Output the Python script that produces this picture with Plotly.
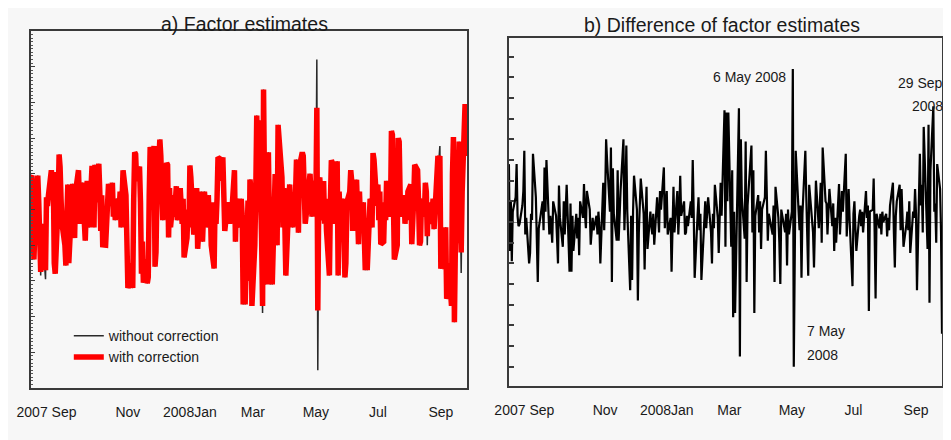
import plotly.graph_objects as go
import pandas as pd

# business days covered by the chart
dates = pd.bdate_range("2007-07-16", "2008-10-08")

# a) factor estimate with correction (red)
factor_with = [
    0.9, 0.95, 0.2, -1.4, -0.6, 0.95, 0.2, -1.2, -1.75, -0.4,
    -1.5, -1.7, 0.34, 0.1, 0.4, 1.1, 0.6, 1.05, -1.5, -1.8,
    0.2, 1.54, 1.2, 0.3, -0.4, -1.0, -1.57, -0.2, 0.7, -1.5,
    0.0, 0.72, -0.3, -0.8, 0.5, 1.1, 0.2, -0.4, 0.6, 0.75,
    -0.87, -0.2, 0.8, 0.3, -0.5, 1.22, 0.9, -0.5, 1.25, 0.2,
    1.28, 0.5, -0.6, 0.4, -0.99, -1.0, -0.3, 0.3, 0.72, 0.1,
    0.75, -0.2, 0.2, -0.3, 0.3, 0.0, 0.5, -0.5, 0.2, 1.1,
    0.4, -1.0, -2.2, -2.1, -1.5, -2.2, 0.3, 1.6, 1.55, 0.8,
    1.2, 0.2, -1.8, -0.9, -2.05, -1.4, -2.07, -1.9, 0.4, 1.75,
    1.3, 1.78, -1.6, -1.2, 0.5, 1.96, 1.5, 0.43, -0.3, 0.6,
    1.3, 1.25, -0.78, 0.6, -0.5, 0.4, -0.2, 0.2, 0.65, -0.3,
    0.6, 0.1, -0.4, 0.3, -1.34, -0.8, 0.0, -0.5, 1.23, 0.9,
    -0.7, 0.4, -0.1, 0.6, -1.1, 0.3, 0.5, -0.9, 0.2, 0.5,
    -0.5, 0.4, -0.3, 0.2, -1.0, -1.65, 0.2, -0.4, 0.3, 1.46,
    1.4, 0.8, 1.46, 0.0, -0.6, 0.2, -0.15, -0.4, 0.1, -0.2,
    1.1, -0.9, 0.3, -0.15, -0.5, 0.3, -0.2, -2.66, -1.5, -2.66,
    0.25, -2.0, 0.84, 0.6, -2.7, -1.0, 0.5, 2.63, 1.2, 2.5,
    -0.8, -2.7, 3.36, 1.5, -2.1, 1.6, -0.2, -2.1, -0.3, -2.1,
    0.99, 0.2, -1.0, 2.37, 1.8, 0.9, -0.5, 0.6, -0.4, -1.85,
    0.2, 0.7, 0.1, -0.3, -0.5, 0.4, 1.4, 0.5, -0.65, 1.2,
    1.6, 1.5, 0.2, -0.4, -0.15, 0.5, 1.0, 0.4, -0.2, 0.8,
    0.2, 2.85, -2.83, 0.3, 0.9, -0.3, 0.8, -0.4, 0.3, -0.6,
    -1.85, 0.2, 1.38, 1.3, -0.4, 0.4, 1.35, -1.85, 0.5, -0.2,
    0.3, -0.8, -1.9, -1.5, 0.2, 0.5, 1.1, 0.8, -0.6, 0.4,
    0.83, 0.2, -0.97, 0.5, -0.3, 0.2, -0.6, -1.7, -1.2, -1.7,
    0.3, 0.2, -0.5, 1.58, 1.4, 0.1, 0.7, -0.3, 0.5, -0.97,
    -0.9, 0.2, -0.3, 0.8, 0.5, -0.2, 2.2, 2.1, 0.3, -1.4,
    -1.0, 2.0, 1.9, 0.4, -0.2, 0.4, -0.4, 0.2, -0.3, 0.5,
    0.7, -0.97, -0.5, 0.3, 1.25, 1.1, 0.2, -1.0, -0.9, 0.3,
    -0.2, 0.75, 0.5, -0.75, 0.2, -0.4, 0.1, 0.3, -0.55, 0.2,
    1.5, 1.4, 1.5, -1.66, -1.2, -1.66, -0.5, -2.5, -2.4, -1.5,
    -2.7, 1.0, 2.03, -3.16, -1.0, 0.8, 1.9, 0.4, -1.2, 0.5,
    2.95, 1.5, 2.95,
]

# a) days where the uncorrected estimate (black) differs from the corrected one
without_overrides = {8: -1.85, 11: -1.95, 171: -2.9, 211: 4.2, 212: -4.5,
                     293: -1.0, 302: 1.78, 318: -1.78}

# b) difference of factor estimates
factor_diff = [
    2.8, -1.4, 1.0, -1.9, 0.5, 1.2, 2.8, 0.3, -0.2, -0.1,
    0.8, 1.5, 3.45, -0.6, 0.2, -2.0, -1.5, 0.4, 0.1, 3.3,
    1.2, -0.5, -2.9, -0.3, 0.1, 1.0, -0.4, 2.64, 0.5, 3.0,
    -0.6, 0.3, -0.2, -1.0, 1.0, 0.3, -0.8, -2.0, 1.76, 0.2,
    -1.2, 1.0, -0.6, 0.4, 1.8, -2.4, 0.9, -2.4, 0.3, -1.4,
    0.4, -0.8, 0.2, -1.6, 1.0, 0.2, 1.84, 0.4, -0.3, 1.5,
    0.6, -1.1, -0.3, 0.2, -0.4, 0.3, -0.6, 0.5, -0.2, -2.0,
    1.9, -0.4, 1.2, 4.0, 3.0, 0.5, 3.6, -2.9, 2.6, 0.4,
    -0.9, 2.5, -0.9, 0.6, 1.5, 4.0, -0.4, 1.2, 3.7, 0.5,
    -3.3, 0.3, -2.8, 0.5, 2.24, 0.6, -3.8, -0.5, 0.8, 2.1,
    0.4, -2.3, 0.2, 1.7, -1.3, 0.5, -0.2, -0.6, 0.4, -1.1,
    1.2, 0.2, -0.5, 1.5, 0.6, 2.64, -0.3, 0.8, 1.5, -0.6,
    0.2, -2.4, 0.3, 1.7, -0.5, 1.5, -0.6, 0.4, 2.24, 0.3,
    1.0, -0.6, -0.5, 0.3, -0.2, 1.0, 0.2, 3.0, 0.5, -2.7,
    0.3, 1.2, -0.4, 0.4, -2.8, 0.2, 1.0, -0.3, 0.3, 1.2,
    -0.5, -2.0, 0.4, -0.3, 1.8, 0.2, -1.5, 0.5, 1.9, 0.3,
    5.4, -1.2, 5.3, 1.0, 5.3, -1.2, 2.5, -4.6, 0.5, -4.4,
    4.26, 5.5, -6.5, 4.0, 1.2, -0.8, 3.9, -2.9, 0.8, 1.5,
    3.7, -0.5, 2.5, -4.4, 0.3, 1.3, -0.5, 1.0, -1.3, 0.6,
    1.2, 3.45, 1.5, -0.9, 0.4, -0.3, -0.6, 0.8, -2.9, 1.7,
    0.2, -1.0, -3.0, 0.6, 0.3, -0.5, 0.4, -2.1, 0.6, -0.6,
    0.5, 7.4, -7.0, 1.0, 3.45, 0.5, -0.4, 0.8, -2.7, 0.4,
    3.45, 1.2, -0.6, -2.6, 1.8, 0.2, -0.5, -2.2, 0.6, 2.0,
    -0.3, 0.5, 1.9, -1.0, 3.6, 1.0, 0.9, -0.6, 0.4, 1.6,
    -0.2, 0.9, -1.4, 0.2, -1.0, 1.84, -0.6, 0.3, 1.5, 0.5,
    3.3, -0.7, 0.6, 1.6, 0.1, -3.1, 0.4, 1.0, -0.3, -1.4,
    0.3, 0.6, -0.2, 0.5, -0.5, 1.5, 0.2, 0.8, -4.3, 0.5,
    0.6, 2.1, -0.5, -3.7, 0.4, -0.3, 0.4, -0.6, 0.5, 0.0,
    0.4, -0.7, 0.2, -0.4, 0.8, 1.9, -0.5, -2.2, 0.3, 1.0,
    1.8, -0.4, 1.6, 0.2, -1.2, -0.1, 0.5, -0.4, 1.0, -1.5,
    0.5, 0.2, 1.6, 0.4, -3.3, 3.3, 0.8, 1.8, -0.5, 4.6,
    0.8, -1.3, 4.7, -3.9, 2.5, 5.6, 0.5, 0.9, -1.0, 2.8,
    1.6, -0.5, -5.4,
]

tick_dates = ["2007-08-01", "2007-10-24", "2007-12-27", "2008-03-01",
              "2008-05-05", "2008-07-08", "2008-09-11"]
tick_labels = ["2007 Sep", "Nov", "2008Jan", "Mar", "May", "Jul", "Sep"]

factor_without = [without_overrides.get(i, v) for i, v in enumerate(factor_with)]
n = min(len(dates), len(factor_with), len(factor_diff))
x = dates[:n]

FONT = "Liberation Sans, Arial, sans-serif"
TXT = "#1a1a1a"
AX = "#3a3a3a"

fig = go.Figure()
fig.add_trace(go.Scatter(x=x, y=factor_without[:n], mode="lines", name="without correction",
                         line=dict(color="#2a2a2a", width=1.5), xaxis="x", yaxis="y"))
fig.add_trace(go.Scatter(x=x, y=factor_with[:n], mode="lines", name="with correction",
                         line=dict(color="#ff0000", width=5.5), xaxis="x", yaxis="y"))
fig.add_trace(go.Scatter(x=x, y=factor_diff[:n], mode="lines", showlegend=False,
                         line=dict(color="#000000", width=2.2), xaxis="x2", yaxis="y2"))

xcommon = dict(range=[x[0], x[-1]], showline=True, mirror=True, linecolor=AX, linewidth=1.5,
               showgrid=False, zeroline=False, ticks="", tickvals=tick_dates, ticktext=tick_labels,
               tickfont=dict(size=14, color=TXT, family=FONT), ticklabelstandoff=10)

fig.update_layout(
    width=943, height=432,
    margin=dict(l=23, r=7, t=23, b=52),
    paper_bgcolor="#f7f7f7", plot_bgcolor="#f7f7f7",
    font=dict(family=FONT, color=TXT, size=14),
    xaxis=dict(domain=[0, 0.4786], anchor="y", **xcommon),
    yaxis=dict(domain=[0, 1], anchor="x", range=[-5, 5], dtick=1, tick0=0,
               showticklabels=False, ticks="inside", ticklen=4, tickwidth=1, tickcolor=AX,
               minor=dict(ticks="inside", ticklen=2, dtick=0.1, tickcolor="#555555", tickwidth=1),
               showline=True, mirror=True, linecolor=AX, linewidth=1.5,
               showgrid=False, zeroline=False),
    xaxis2=dict(domain=[0.5246, 1], anchor="y2", **xcommon),
    yaxis2=dict(domain=[0.0056, 0.9804], anchor="x2", range=[-7.93, 8.9], dtick=1, tick0=0,
                showticklabels=False, ticks="inside", ticklen=5, tickwidth=1.5, tickcolor=AX,
                showline=True, mirror=True, linecolor=AX, linewidth=1.5,
                showgrid=False, zeroline=True, zerolinecolor="#8a8a8a", zerolinewidth=1),
    legend=dict(x=0.0415, y=0.19, xanchor="left", yanchor="top", bgcolor="rgba(0,0,0,0)",
                font=dict(size=14, color=TXT, family=FONT), tracegroupgap=0),
    annotations=[
        dict(text="a) Factor estimates", xref="paper", yref="paper", x=0.2344, y=1.0196,
             xanchor="center", yanchor="middle", showarrow=False, font=dict(size=19.5)),
        dict(text="b) Difference of factor estimates", xref="paper", yref="paper", x=0.758,
             y=1.0168, xanchor="center", yanchor="middle", showarrow=False, font=dict(size=19.5)),
        dict(text="6 May 2008", xref="x2", yref="y2", x="2008-05-06", y=7.01,
             xanchor="right", yanchor="middle", xshift=-5, showarrow=False),
        dict(text="7 May", xref="x2", yref="y2", x="2008-05-07", y=-5.27,
             xanchor="left", yanchor="middle", xshift=11, showarrow=False),
        dict(text="2008", xref="x2", yref="y2", x="2008-05-07", y=-6.43,
             xanchor="left", yanchor="middle", xshift=11, showarrow=False),
        dict(text="29 Sep", xref="x2 domain", yref="y2", x=1, y=6.72,
             xanchor="right", yanchor="middle", xshift=3, showarrow=False),
        dict(text="2008", xref="x2 domain", yref="y2", x=1, y=5.61,
             xanchor="right", yanchor="middle", xshift=3, showarrow=False),
    ],
)

fig.write_html("out.html")
